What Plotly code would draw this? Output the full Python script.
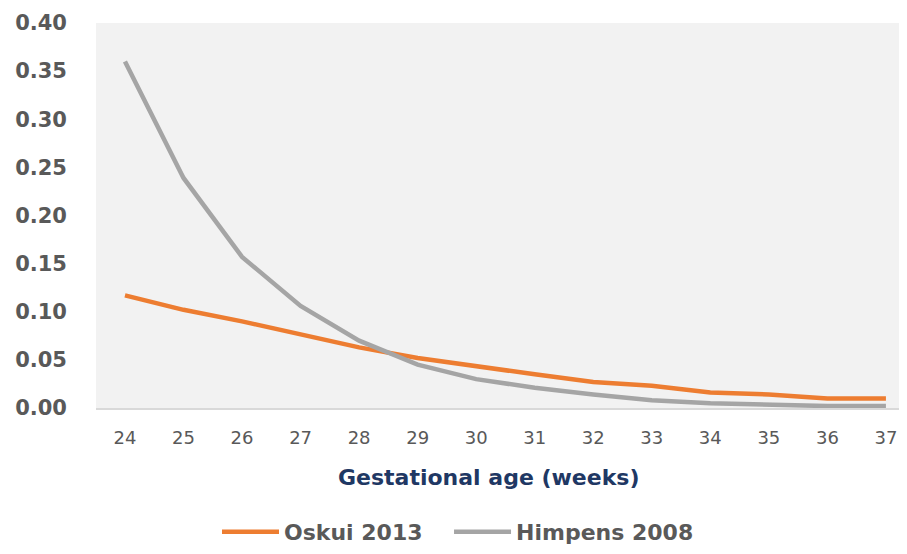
import plotly.graph_objects as go

weeks = [24, 25, 26, 27, 28, 29, 30, 31, 32, 33, 34, 35, 36, 37]
oskui_2013 = [0.117, 0.102, 0.090, 0.077, 0.063, 0.052, 0.043, 0.035, 0.027, 0.023, 0.016, 0.014, 0.010, 0.010]
himpens_2008 = [0.360, 0.239, 0.157, 0.106, 0.070, 0.045, 0.030, 0.021, 0.014, 0.008, 0.005, 0.003, 0.002, 0.002]
y_ticks = [0.00, 0.05, 0.10, 0.15, 0.20, 0.25, 0.30, 0.35, 0.40]
x_title = "Gestational age (weeks)"

FONT = "DejaVu Sans"

fig = go.Figure()
fig.add_trace(go.Scatter(x=weeks, y=oskui_2013, mode="lines", name="Oskui 2013",
                         line=dict(color="#ED7D31", width=4.5), legend="legend"))
fig.add_trace(go.Scatter(x=weeks, y=himpens_2008, mode="lines", name="Himpens 2008",
                         line=dict(color="#A5A5A5", width=4.5), legend="legend2"))

legend_style = dict(orientation="h", xanchor="left", y=-0.322, yanchor="middle",
                    font=dict(size=22, color="#595959", family=FONT, weight="bold"),
                    bgcolor="rgba(0,0,0,0)", itemwidth=57)

fig.update_layout(
    width=899, height=546,
    margin=dict(l=88, r=0, t=15, b=146),
    paper_bgcolor="white",
    plot_bgcolor="#F2F2F2",
    font=dict(family=FONT, color="#595959"),
    showlegend=True,
    legend=dict(x=0.1492, **legend_style),
    legend2=dict(x=0.4353, **legend_style),
    annotations=[dict(text=x_title, xref="paper", yref="paper", x=0.4846, y=-0.1818,
                      xanchor="center", yanchor="middle", showarrow=False,
                      font=dict(size=22, color="#1F3864", family=FONT, weight="bold"))],
)
fig.update_xaxes(
    range=[23.505, 37.36], tickmode="array", tickvals=weeks,
    ticktext=[str(w) for w in weeks], showgrid=False, zeroline=False,
    showline=True, linecolor="#D9D9D9", linewidth=2,
    tickfont=dict(size=18, color="#595959", family=FONT), ticks="", ticklabelstandoff=12,
)
fig.update_yaxes(
    range=[0, 0.40], tickmode="array", tickvals=y_ticks,
    ticktext=[f"{v:.2f}" for v in y_ticks], showgrid=False, zeroline=False,
    showline=False, ticks="", ticklabelstandoff=28,
    tickfont=dict(size=21, color="#595959", family=FONT, weight="bold"),
)

fig.write_html("out.html")
